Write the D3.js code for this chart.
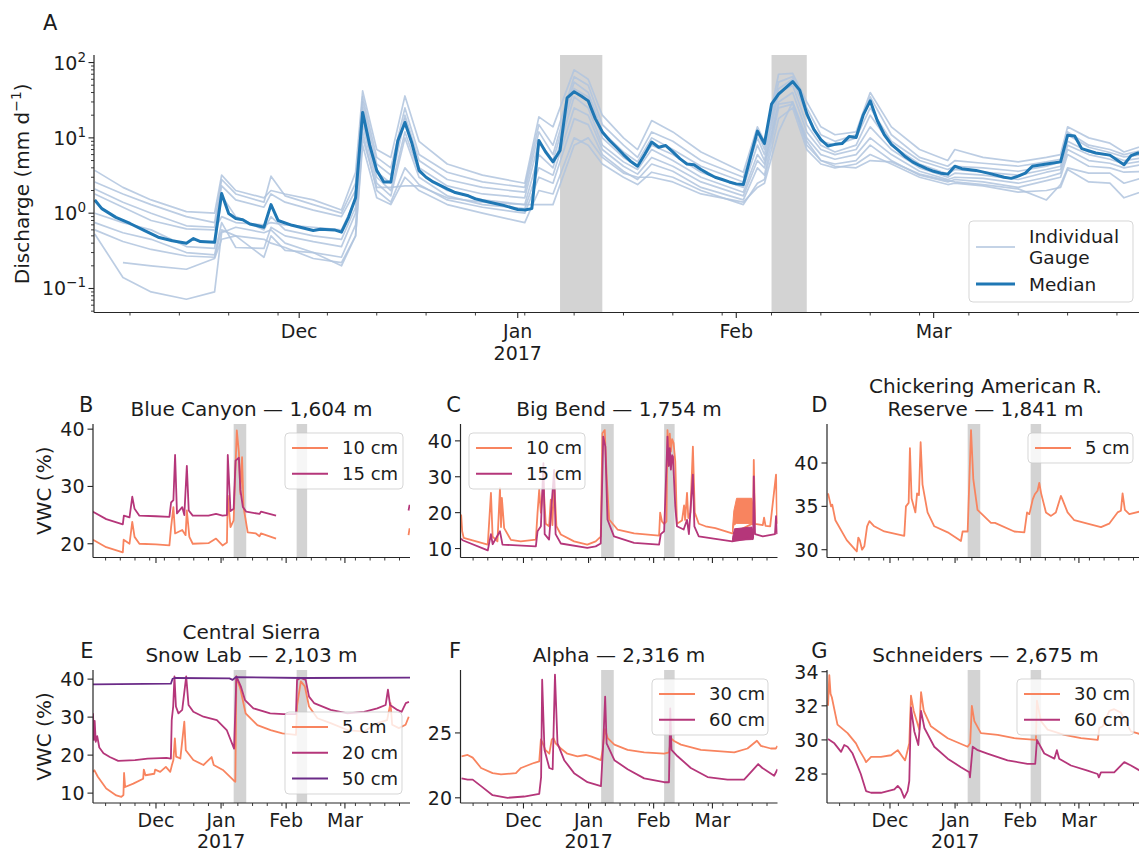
<!DOCTYPE html>
<html><head><meta charset="utf-8">
<script src="https://cdn.jsdelivr.net/npm/d3@7/dist/d3.min.js"></script>
<style>
html,body{margin:0;padding:0;background:#fff;}
svg{display:block;font-family:"DejaVu Sans",sans-serif;}
</style></head>
<body><svg id="fig" width="1139" height="852"></svg>
<script>
// ================= DATA =================
const stormWindows = [["2017-01-07","2017-01-13"],["2017-02-06","2017-02-11"]];
const monthTicks = ["2016-12-01","2017-01-01","2017-02-01","2017-03-01"];
const monthLabels = [["Dec"],["Jan","2017"],["Feb"],["Mar"]];
const dischargeTicks = [0.1, 1, 10, 100];
const dischargeExp = ["\u22121","0","1","2"];

// Panel A: median discharge (mm/d)
const medianQ = [["2016-11-02",1.5],["2016-11-03",1.15],["2016-11-05",0.88],["2016-11-07",0.73],["2016-11-09",0.59],["2016-11-11",0.48],["2016-11-13",0.43],["2016-11-15",0.40],["2016-11-16",0.46],["2016-11-17",0.42],["2016-11-19",0.41],["2016-11-20",1.82],["2016-11-21",0.99],["2016-11-22",0.85],["2016-11-23",0.82],["2016-11-24",0.72],["2016-11-26",0.65],["2016-11-27",1.3],["2016-11-28",0.8],["2016-11-30",0.69],["2016-12-03",0.59],["2016-12-04",0.61],["2016-12-06",0.6],["2016-12-07",0.56],["2016-12-08",0.88],["2016-12-09",1.6],["2016-12-10",21.8],["2016-12-11",8.0],["2016-12-12",3.7],["2016-12-13",2.6],["2016-12-14",2.6],["2016-12-15",9.2],["2016-12-16",16],["2016-12-17",8.4],["2016-12-18",3.7],["2016-12-19",3.0],["2016-12-20",2.6],["2016-12-22",2.1],["2016-12-23",1.9],["2016-12-25",1.7],["2016-12-26",1.55],["2016-12-28",1.4],["2016-12-30",1.27],["2017-01-01",1.12],["2017-01-02",1.1],["2017-01-03",1.15],["2017-01-04",9.2],["2017-01-05",6.4],["2017-01-06",4.8],["2017-01-07",6.8],["2017-01-08",34],["2017-01-09",41],["2017-01-10",36],["2017-01-11",31],["2017-01-12",18],["2017-01-13",12],["2017-01-14",9.3],["2017-01-15",7.5],["2017-01-16",6.0],["2017-01-17",4.9],["2017-01-18",4.2],["2017-01-19",6.0],["2017-01-20",8.8],["2017-01-21",7.5],["2017-01-22",7.9],["2017-01-23",6.5],["2017-01-24",5.3],["2017-01-25",4.5],["2017-01-26",4.4],["2017-01-27",3.8],["2017-01-28",3.35],["2017-01-29",3.0],["2017-01-30",2.8],["2017-01-31",2.6],["2017-02-01",2.45],["2017-02-02",2.4],["2017-02-03",5.5],["2017-02-04",12.3],["2017-02-05",8.4],["2017-02-06",28],["2017-02-07",38],["2017-02-08",46],["2017-02-09",56],["2017-02-10",43],["2017-02-11",21],["2017-02-12",13],["2017-02-13",9.5],["2017-02-14",7.8],["2017-02-15",8.2],["2017-02-16",8.4],["2017-02-17",10.4],["2017-02-18",10.1],["2017-02-19",20],["2017-02-20",31],["2017-02-21",17],["2017-02-22",11],["2017-02-23",8.2],["2017-02-24",6.8],["2017-02-25",5.6],["2017-02-26",4.8],["2017-02-27",4.3],["2017-02-28",3.9],["2017-03-01",3.6],["2017-03-02",3.4],["2017-03-03",3.3],["2017-03-04",4.2],["2017-03-05",3.9],["2017-03-07",3.7],["2017-03-09",3.35],["2017-03-11",3.0],["2017-03-12",2.9],["2017-03-13",3.1],["2017-03-14",3.4],["2017-03-15",4.2],["2017-03-17",4.5],["2017-03-19",4.8],["2017-03-20",10.8],["2017-03-21",10.6],["2017-03-22",7.2],["2017-03-24",6.3],["2017-03-26",5.9],["2017-03-28",4.4],["2017-03-29",5.8],["2017-03-30",6.3],["2017-03-31",6.0]];

// Panel A: individual gauges, sampled on shared dates
const gaugeDates = ["2016-11-02","2016-11-06","2016-11-10","2016-11-15","2016-11-19","2016-11-20","2016-11-22","2016-11-26","2016-11-27","2016-11-29","2016-12-03","2016-12-07","2016-12-09","2016-12-10","2016-12-12","2016-12-14","2016-12-16","2016-12-18","2016-12-22","2016-12-27","2017-01-02","2017-01-04","2017-01-06","2017-01-09","2017-01-11","2017-01-13","2017-01-16","2017-01-18","2017-01-20","2017-01-23","2017-01-27","2017-02-02","2017-02-04","2017-02-05","2017-02-07","2017-02-09","2017-02-11","2017-02-13","2017-02-15","2017-02-18","2017-02-20","2017-02-23","2017-02-27","2017-03-03","2017-03-04","2017-03-08","2017-03-13","2017-03-17","2017-03-19","2017-03-20","2017-03-23","2017-03-26","2017-03-28","2017-03-31"];
const gauge1 = [3.7,2.2,1.5,1.05,1.0,3.2,2.0,1.6,2.0,1.8,1.5,1.1,3.5,42,7,5.5,36,9,4.5,3.2,2.5,19,14,80,60,20,10,7,17,12,6.5,3.5,14,9,70,72,30,14,11,12,40,14,7,5,7,5.5,4.8,5.5,6,14,10,8.5,6.5,8];
const gauge2 = [2.6,1.8,1.3,0.9,0.75,2.8,1.8,1.4,3.1,1.7,1.3,1.0,2.5,35,5.5,4.0,25,6,3.5,2.6,2.2,15,8,65,50,15,8,5.5,12,9,5,3.0,12,7,55,65,25,11,9,11,35,11,5.5,4.2,5,4.6,4.2,4.8,5.2,12,8,7,6,7];
const gauge3 = [2.1,1.4,1.0,0.68,0.65,2.3,1.5,1.2,1.8,1.4,1.1,0.9,2.0,30,4.5,3.2,20,5,2.8,2.2,1.9,12,6,55,40,12,6.5,4.8,10,7,4.2,2.6,10,6,45,60,20,9,8,10,25,9,5,3.8,4.2,4,3.6,4.2,4.8,11,7.5,6.4,5.6,6];
const gauge4 = [1.8,1.2,0.8,0.62,0.6,0.9,0.75,0.7,0.75,0.7,0.65,0.6,1.5,25,3.5,2.5,18,4,2.3,1.8,1.6,9,5,45,35,10,5.5,4.2,8,6,3.5,2.2,8,5,40,50,15,8,6.5,8,20,8,4.5,3.3,3.8,3.5,3.2,3.8,4.2,9,6.5,5.8,5,5.5];
const gauge5 = [1.0,0.75,0.6,0.36,0.34,1.7,0.9,0.6,0.9,0.6,0.5,0.45,1.2,18,3.0,2.0,12,3.5,2.0,1.5,1.3,6,4,35,25,8,4.8,3.8,7,5,3.0,1.9,6,4.5,30,40,12,7,6,7,14,7,4,3.0,3.4,3.2,2.8,3.5,3.8,8,6,5.2,4.5,5];
const gauge6 = [0.75,0.55,0.45,0.3,0.28,0.75,0.35,0.34,0.65,0.5,0.42,0.36,1.0,15,2.5,1.7,10,3,1.7,1.3,1.15,4,3.2,25,20,7,4.2,3.3,5.5,4.2,2.6,1.7,5,4,28,30,10,6,5.2,6,10,6,3.6,2.8,3.0,2.9,2.5,3.0,3.4,7,5,4.6,4,4.5];
const gauge7 = [0.6,0.42,0.33,0.27,0.26,0.6,0.5,0.26,0.5,0.32,0.3,0.26,0.7,12,2.0,1.4,4,2.4,1.5,1.2,1.0,3,2.5,18,15,6,3.6,2.8,4.5,3.6,2.2,1.5,4,3.2,25,28,9,5,4.5,5,8,5,3.2,2.6,2.8,2.6,2.2,2.7,3.0,6,4.2,4.0,3.5,3.6];
const gauge8 = [0.53,0.14,0.09,0.072,0.09,0.55,0.65,0.55,0.6,0.4,0.3,0.2,0.5,8,1.6,1.3,3,2.0,1.3,1.0,0.75,2,1.8,10,8,4.5,3.0,2.4,3.5,3.0,2.0,1.3,2.5,2.8,18,25,7,4.5,4,4.5,6,4.5,3.0,2.4,2.5,2.3,1.9,2.0,2.2,3.8,2.6,2.5,1.6,2.0];
const gauge9 = [null,0.22,0.2,0.18,0.25,0.45,0.5,0.45,0.4,0.35,0.25,0.22,0.5,10,2.2,2.2,2.3,2.3,1.6,1.4,1.3,1.3,1.3,8,10,5.5,3.4,3.0,3.0,2.6,1.8,1.4,2.2,2.5,12,30,8,5,4.2,4.0,5,4.8,3.3,2.7,2.6,2.4,2.1,1.5,2.4,4,3.4,3.4,2.5,3];

// Soil moisture (VWC %), x = days since 1 Nov 2016
const bcTicks = [20,30,40];
const bc10 = [[0,20.7],[6.3,19.4],[14.2,18.5],[14.6,20.7],[17.4,20.0],[18.7,23.8],[19.8,21.2],[22.1,20.0],[30,19.9],[36.4,19.7],[37.2,22.9],[38.3,26.4],[39.1,21.8],[42.5,22.4],[44.1,21.5],[44.7,25.8],[45.9,21.2],[47.5,20.0],[55,20.1],[58.6,20.9],[61.7,19.7],[63.8,20.2],[64.2,28.4],[65.5,22.9],[67,24.1],[68.5,39.8],[69.5,35.9],[70.2,28.7],[71,35.1],[71.7,26.4],[73.7,22],[77.6,21.8],[79.3,21.3],[80,21.8],[87.2,20.9],[87.3,null],[150.3,21.5],[150.8,22.7]];
const bc15 = [[0,25.6],[6.3,24.3],[14.2,23.4],[14.7,24.9],[17.4,24.6],[18.7,28.2],[19.8,26.1],[22.1,24.9],[30,24.8],[36.4,24.7],[37.2,27.2],[38.3,27.6],[39.1,35.5],[40,25.3],[42.5,26.4],[43.5,25.0],[44.7,33.6],[45.6,25.8],[47.5,24.9],[55,24.9],[58.6,25.2],[61.7,24.9],[63.8,25.0],[64.2,35.5],[65.5,25.7],[67,26.1],[67.9,34.5],[69.5,35.0],[70.2,29.4],[71.4,26.4],[73,25.6],[79.3,25.2],[80,25.6],[87.2,24.9],[87.3,null],[150.3,25.8],[150.8,26.8]];

const bbTicks = [10,20,30,40];
const bb10 = [[0.3,19.5],[0.8,14.8],[1.5,13],[13,11.1],[14.5,25.5],[15.3,13.3],[17.6,12.0],[18.8,26.8],[19.3,16],[19.7,24.1],[20.8,15.7],[24,12.4],[28.7,12.0],[35.9,12.5],[36.7,20],[37.5,26.4],[38.3,20],[39.5,28.2],[40.6,16.9],[42.2,16.2],[43,23.6],[43.8,16.5],[44.6,29.2],[45.7,16.2],[47.8,13.9],[54.1,12.0],[60.4,11.1],[64.4,12.0],[66.8,13.3],[67.6,42.1],[68.7,43],[69.7,29.2],[70.8,18.1],[74.8,15.3],[82.7,14.2],[94.6,13.6],[95.1,20],[96,17.5],[97,16.9],[98.1,17.5],[98.6,43],[99.2,36],[99.7,42],[100.2,37],[100.8,40.5],[101.5,39.4],[102.3,34.3],[103.1,16.9],[105.5,17.8],[106.5,22],[107,18],[107.9,25.5],[108.5,18.5],[109.5,20],[110.7,38.4],[111.6,20],[113.5,16.9],[116.7,16.2],[121.4,15.7],[129.4,14.2],[139.4,17],[139.7,34.7],[140.3,16.9],[144,16.5],[144.6,18.6],[145.3,16.3],[147.5,16.2],[150.3,30.6],[150.8,16.9]];
const bb10Band = [[129.6,14.5,16],[130.2,16.5,20.5],[131.5,17,24],[138.8,17,24],[139.4,16.5,21]];
const bb15 = [[0.3,12.8],[1,12.3],[13,9.5],[14.5,14],[15.3,11.2],[18.8,14.8],[20,11.1],[35.9,10.6],[36.7,14.8],[38.3,16.2],[39.5,33.8],[40.1,14],[42.2,12.5],[44.6,31.9],[45.3,14],[47.8,11.4],[60.4,10.2],[64.4,10.6],[66.8,11.4],[68,41.2],[69,38.4],[70,18.1],[73.1,13.4],[82.7,11.6],[94.6,11.1],[95.4,14],[97,14.8],[98.6,41.2],[99.2,33],[99.7,38],[100.2,32],[100.8,36],[101.2,35.6],[102.3,21.8],[103.1,16.2],[106.3,15.3],[107.9,18],[108.8,14],[110.7,30.6],[111.4,16.2],[113.5,13.4],[121.4,12.7],[129.4,12.0],[139.4,13],[139.7,30.1],[140.3,14],[144,13.4],[149.8,14],[150.3,19],[150.8,14]];
const bb15Band = [[129.6,12,13],[130.5,12.3,15.5],[138.8,12.5,16],[139.4,12.5,14.5]];

const chTicks = [30,35,40];
const ch5 = [[0.5,36.5],[1.9,35.0],[2.5,35.2],[4,33.4],[9.4,31.1],[13.4,30.0],[14.2,29.8],[14.9,31.4],[15.6,31.1],[16.7,30.0],[17.8,30.4],[19.1,32.7],[20.2,33.3],[22.5,32.7],[27.3,32.1],[36.8,31.6],[37.6,35.0],[38.9,35.4],[39.5,41.7],[40.3,35.9],[42.1,34.3],[42.9,36.5],[43.8,36.3],[44.6,42.4],[45.5,37.5],[47.9,34.3],[51.1,32.7],[57.5,32.0],[63.8,31.0],[64.6,32.1],[67,32.1],[68.6,43.8],[69.7,38.1],[71.7,34.6],[78.1,33.1],[80,33.1],[89.2,32.1],[94,32.0],[95.3,34.3],[96.4,34.1],[98,35.8],[99,36.4],[100.3,36.8],[101.1,37.7],[102,36.5],[104.3,34.3],[106.7,33.9],[109,34.3],[111.4,36.2],[112,35.9],[114.6,34.3],[117.8,33.4],[124.1,33.0],[130.5,32.6],[134.4,33.0],[138.4,34.3],[140,34.5],[140.8,36.5],[141.9,34.6],[144,34.1],[149,34.4],[151,34.5]];

const cslTicks = [10,20,30,40];
const csl5 = [[0,15.6],[0.7,16],[2.3,14.3],[6.3,11.2],[11.1,9.4],[13.5,9.0],[14.5,9.5],[14.8,15.3],[15.3,11.6],[19.2,12.5],[23.9,13.8],[24.2,16.2],[25,14.7],[29.2,15.1],[29.6,16.2],[32,15.6],[34.7,16.9],[36.8,15.6],[37.6,17.4],[38.3,18.7],[39,24.4],[39.6,19.6],[41.6,19.1],[43.5,28.8],[44.2,21.3],[47.8,18.7],[52.6,17.4],[56.5,19.5],[57.5,17.4],[62.1,16.0],[66.9,13.4],[67.8,13.0],[68.3,40.7],[70.3,37.2],[72.7,31.0],[78.3,27.9],[84.6,26.6],[90.2,25.7],[96.7,25.3],[97.2,33],[99,39.4],[100.9,38.1],[102.9,32.8],[106.9,29.7],[113.2,28.4],[121.2,26.6],[129.1,26.2],[135.4,28.4],[140.1,29.2],[141.7,33.7],[142.5,28.0],[145.7,27.1],[148.9,28.0],[150.4,30.1]];
const csl20 = [[0,31],[0.4,24],[0.8,29],[1.3,23.5],[2,25],[3,22],[5,20.5],[8,19.5],[12,18.5],[20,18.7],[26,19.1],[35,19.3],[37.1,19.1],[37.5,29.2],[38.2,32.8],[38.8,40.7],[39.5,32.8],[40.7,31.0],[42.5,31.9],[44.4,40.7],[45.5,33.2],[47.8,31.4],[52.6,30.1],[59,29.2],[63.7,26.6],[67.2,21.7],[68.3,40.7],[70.4,38.1],[72.4,34.5],[76.4,32.3],[84.4,31.0],[90.7,30.8],[96.7,30.8],[97.2,39.8],[98.9,40.3],[101.3,39.8],[102.9,35.4],[105.3,33.7],[113.2,31.9],[121.2,31.0],[129.1,31.4],[135.4,32.3],[139.4,33.2],[140.5,37.2],[141.5,33.2],[145,31.9],[147,31.4],[149,33.7],[150.5,34]];
const csl50 = [[0,38.6],[37.1,38.8],[37.9,40.1],[39,40.3],[65,40.2],[66.5,39.8],[68,40.5],[100,40.3],[151,40.4]];

const alTicks = [20,25];
const al30 = [[0.5,23.2],[3.4,23.3],[5.8,23.1],[9.8,22.3],[15.3,21.9],[19.3,21.8],[26.4,21.9],[28.8,22.3],[35.2,22.7],[37.5,22.8],[38.3,24.5],[39.2,24.2],[40.4,23.7],[42.3,23.4],[43.5,24.5],[44.3,24.6],[45.3,24.2],[47.8,23.8],[50.9,23.4],[55.7,23.2],[59.7,23.3],[62.1,23.2],[66.9,22.9],[67.7,23.7],[68.8,25.3],[70.1,24.6],[73.3,24.1],[79.6,23.7],[87.5,23.5],[97,23.4],[99.4,23.5],[100.2,24.6],[101.5,24.4],[105,24.1],[114.5,23.7],[122.5,23.6],[130.4,23.5],[136.7,23.8],[141.2,24.4],[143.1,24.0],[147.8,23.8],[150.2,23.8],[151,24.0]];
const al60 = [[0.5,21.5],[3.4,21.4],[5.8,21.4],[9.8,20.9],[15.3,20.2],[22.4,20.0],[30.3,20.1],[37.5,20.3],[38.4,21.6],[38.9,29.1],[40,23.7],[42.3,22.3],[43.9,22.2],[45,29.5],[46.2,24.2],[49.4,22.9],[54.1,21.9],[60.5,21.2],[66.9,20.9],[68,24.2],[68.9,27.8],[69.6,24.2],[73.3,22.9],[79.6,22.2],[87.5,21.5],[97,21.2],[99.3,21.2],[99.9,26.9],[100.5,23.7],[103.4,23.2],[109.7,22.3],[117.7,21.6],[127.2,21.4],[135.1,21.4],[141.8,22.6],[143.8,22.3],[149.4,21.7],[151,22.2]];

const scTicks = [28,30,32,34];
const sc30 = [[0.5,32.0],[1.1,33.8],[1.7,32.7],[2.3,32.5],[5.0,30.9],[9.8,30.4],[13.8,29.8],[15.4,29.4],[17.8,28.9],[18.6,28.7],[21,29.0],[25.7,29.0],[30.5,29.1],[33.7,29.4],[36.0,29.0],[37.2,28.8],[39.2,29.8],[40,32.6],[41.3,31.7],[44,30.6],[44.8,32.8],[46.1,31.7],[49.5,30.8],[57.5,30.1],[67,29.6],[68.2,29.8],[69,32.0],[70.2,31.1],[73.3,30.4],[81.3,30.3],[89.2,30.1],[99.5,30.0],[100,32.3],[101.9,31.1],[105.1,30.6],[113,30.3],[121,30.1],[129,30.0],[129.7,30.7],[131.3,30.8],[134.5,31.7],[136.8,31.8],[140,31.6],[141.6,31.2],[144.8,30.5],[149,30.35],[151,30.3]];
const sc60 = [[0.5,30.05],[3.5,29.8],[6.7,29.3],[8.2,29.7],[9.8,29.6],[12.2,29.2],[16.1,28.0],[18.6,27.0],[21,26.9],[25.7,26.9],[32.1,27.1],[33.7,27.3],[35.2,27.1],[36.8,26.6],[38.4,27.0],[39.2,27.6],[40,31.9],[41.6,30.5],[43.5,29.7],[44.8,31.7],[46.4,30.7],[51.1,29.6],[57.5,28.9],[63.8,28.4],[67.8,28.1],[68.1,27.8],[69.4,29.6],[71.8,29.4],[76.4,29.2],[86,28.8],[95.5,28.6],[99.2,28.6],[100,30.0],[103.5,29.2],[108.3,28.9],[109.5,29.4],[110.6,28.9],[116.2,28.5],[124.1,28.2],[128.9,28.0],[129.5,27.8],[130.5,28.1],[136.8,28.1],[141.6,28.7],[144.8,28.5],[149,28.2],[151,28.2]];

// ================= DRAWING =================
const P = d3.timeParse("%Y-%m-%d");
const T0 = P("2016-11-01");
const dayToDate = d => new Date(T0.getTime() + d * 86400000);
const AX = "#262626", TXT = "#1c1c1c";
const ORANGE = "#f8845f", MAGENTA = "#b5367a", PURPLE = "#6b2b88";
const GAUGE = "#b0c4de", MEDIAN = "#1f77b4", SHADE = "#d3d3d3";
const svg = d3.select("#fig");
const defs = svg.append("defs");

function addText(g, x, y, txt, size, anchor) {
  return g.append("text").attr("x", x).attr("y", y).attr("font-size", size)
    .attr("text-anchor", anchor || "start").attr("fill", TXT).text(txt);
}

function drawXAxis(g, x, yb, xl, xr, labels, fs, lab0, labStep) {
  g.append("line").attr("x1", xl).attr("x2", xr).attr("y1", yb).attr("y2", yb)
    .attr("stroke", AX).attr("stroke-width", 1.2);
  const majors = monthTicks.map(P);
  const d0 = x.invert(xl), d1 = x.invert(Math.min(xr, 1139));
  d3.timeMonday.range(d0, d1).forEach(d => {
    if (majors.some(m => Math.abs(m - d) < 3600e3)) return;
    g.append("line").attr("x1", x(d)).attr("x2", x(d)).attr("y1", yb).attr("y2", yb + 3)
      .attr("stroke", AX).attr("stroke-width", 0.9);
  });
  majors.forEach((m, i) => {
    const px = x(m);
    g.append("line").attr("x1", px).attr("x2", px).attr("y1", yb).attr("y2", yb + 5.5)
      .attr("stroke", AX).attr("stroke-width", 1.1);
    if (labels) {
      monthLabels[i].forEach((s, j) => addText(g, px, yb + lab0 + j * labStep, s, fs, "middle"));
    }
  });
}

function legend(g, bx, by, bw, entries, fs, opts) {
  opts = opts || {};
  const rowH = opts.rowH || 25.7;
  const bh = opts.bh || (4 + 26 * entries.length);
  g.append("rect").attr("x", bx).attr("y", by).attr("width", bw).attr("height", bh)
    .attr("rx", 4).attr("fill", "#fff").attr("fill-opacity", 0.8)
    .attr("stroke", "#cccccc").attr("stroke-opacity", 0.8).attr("stroke-width", 1);
  const lx0 = bx + (opts.lx0 || 7), lx1 = bx + (opts.lx1 || 43), tx = bx + (opts.tx || 57);
  entries.forEach((e, i) => {
    const cy = by + (e.cy != null ? e.cy : 15 + rowH * i);
    g.append("line").attr("x1", lx0).attr("x2", lx1).attr("y1", cy).attr("y2", cy)
      .attr("stroke", e.color).attr("stroke-width", e.width || 2);
    const lines = e.label;
    const lh = fs * 1.17;
    lines.forEach((s, j) => {
      const ty = cy + fs * 0.36 + (j - (lines.length - 1) / 2) * lh;
      addText(g, tx, ty, s, fs, "start");
    });
  });
}

// ---------- Panel A ----------
(function () {
  const box = {l: 94, r: 1139, t: 55, b: 312.5};
  const x = d3.scaleTime().domain([T0, dayToDate(151)]).range([87.7, 1152.2]);
  const y = d3.scaleLog().domain([0.048, 126]).range([box.b, box.t]);
  const g = svg.append("g");
  defs.append("clipPath").attr("id", "clipA").append("rect")
    .attr("x", box.l).attr("y", box.t - 10).attr("width", box.r - box.l).attr("height", box.b - box.t + 10);
  stormWindows.forEach(([s, e]) => g.append("rect").attr("x", x(P(s))).attr("width", x(P(e)) - x(P(s)))
    .attr("y", box.t).attr("height", box.b - box.t).attr("fill", SHADE));
  const line = d3.line().defined(d => d[1] != null).x(d => x(d[0])).y(d => y(d[1]));
  const gl = g.append("g").attr("clip-path", "url(#clipA)");
  const gauges = [gauge1, gauge2, gauge3, gauge4, gauge5, gauge6, gauge7, gauge8, gauge9];
  gauges.forEach(gv => {
    const s = gaugeDates.map((ds, i) => [P(ds), gv[i]]);
    gl.append("path").attr("d", line(s)).attr("fill", "none").attr("stroke", GAUGE)
      .attr("stroke-width", 1.7).attr("stroke-opacity", 0.85).attr("stroke-linejoin", "round");
  });
  gl.append("path").attr("d", line(medianQ.map(d => [P(d[0]), d[1]]))).attr("fill", "none")
    .attr("stroke", MEDIAN).attr("stroke-width", 3).attr("stroke-linejoin", "round");
  // y axis
  g.append("line").attr("x1", box.l).attr("x2", box.l).attr("y1", box.t).attr("y2", box.b)
    .attr("stroke", AX).attr("stroke-width", 1.2);
  for (let k = -2; k <= 2; k++) for (let m = 2; m <= 9; m++) {
    const v = m * Math.pow(10, k);
    if (v < 0.048 || v > 126) continue;
    g.append("line").attr("x1", box.l - 3).attr("x2", box.l).attr("y1", y(v)).attr("y2", y(v))
      .attr("stroke", AX).attr("stroke-width", 0.9);
  }
  dischargeTicks.forEach((v, i) => {
    const py = y(v);
    g.append("line").attr("x1", box.l - 5.5).attr("x2", box.l).attr("y1", py).attr("y2", py)
      .attr("stroke", AX).attr("stroke-width", 1.1);
    const t = g.append("text").attr("x", box.l - 8).attr("y", py + 7).attr("font-size", 19)
      .attr("text-anchor", "end").attr("fill", TXT);
    t.append("tspan").text("10");
    t.append("tspan").attr("dy", -8).attr("font-size", 13.5).text(dischargeExp[i]);
  });
  drawXAxis(g, x, box.b, box.l, box.r, true, 19, 25.5, 22);
  // y label
  const yl = g.append("text").attr("transform", `translate(29,${(box.t + box.b) / 2}) rotate(-90)`)
    .attr("text-anchor", "middle").attr("font-size", 20).attr("fill", TXT);
  yl.append("tspan").text("Discharge (mm d");
  yl.append("tspan").attr("dy", -8).attr("font-size", 14).text("\u22121");
  yl.append("tspan").attr("dy", 8).text(")");
  addText(g, 43, 30, "A", 21);
  legend(g, 969, 221, 164, [
    {label: ["Individual", "Gauge"], color: GAUGE, width: 1.7, cy: 26},
    {label: ["Median"], color: MEDIAN, width: 3, cy: 63}
  ], 18.5, {bh: 81, lx0: 7, lx1: 46, tx: 60});
})();

// ---------- Soil moisture panels ----------
const cols = [93, 460.5, 827];
const rows = [{t: 424, b: 557.5}, {t: 670, b: 803}];
const panels = [
  {letter: "B", c: 0, r: 0, title: ["Blue Canyon \u2014 1,604 m"], dom: [17.6, 40.9], ticks: bcTicks,
   series: [{d: bc10, col: ORANGE, lab: "10 cm"}, {d: bc15, col: MAGENTA, lab: "15 cm"}], leg: [285, 433, 118]},
  {letter: "C", c: 1, r: 0, title: ["Big Bend \u2014 1,754 m"], dom: [7.5, 44.7], ticks: bbTicks,
   series: [{d: bb10, col: ORANGE, lab: "10 cm", band: bb10Band}, {d: bb15, col: MAGENTA, lab: "15 cm", band: bb15Band}], leg: [469, 433, 116]},
  {letter: "D", c: 2, r: 0, title: ["Chickering American R.", "Reserve \u2014 1,841 m"], dom: [29.1, 44.5], ticks: chTicks,
   series: [{d: ch5, col: ORANGE, lab: "5 cm"}], leg: [1028, 433, 105]},
  {letter: "E", c: 0, r: 1, title: ["Central Sierra", "Snow Lab \u2014 2,103 m"], dom: [7.4, 42.4], ticks: cslTicks,
   series: [{d: csl5, col: ORANGE, lab: "5 cm"}, {d: csl20, col: MAGENTA, lab: "20 cm"}, {d: csl50, col: PURPLE, lab: "50 cm"}], leg: [285, 712, 117]},
  {letter: "F", c: 1, r: 1, title: ["Alpha \u2014 2,316 m"], dom: [19.6, 29.85], ticks: alTicks,
   series: [{d: al30, col: ORANGE, lab: "30 cm"}, {d: al60, col: MAGENTA, lab: "60 cm"}], leg: [652, 679, 116]},
  {letter: "G", c: 2, r: 1, title: ["Schneiders \u2014 2,675 m"], dom: [26.3, 34.1], ticks: scTicks,
   series: [{d: sc30, col: ORANGE, lab: "30 cm"}, {d: sc60, col: MAGENTA, lab: "60 cm"}], leg: [1017, 679, 117]}
];

panels.forEach((p, idx) => {
  const x0 = cols[p.c], x1 = x0 + 317, rw = rows[p.r];
  const x = d3.scaleTime().domain([T0, dayToDate(151)]).range([x0, x1]);
  const y = d3.scaleLinear().domain(p.dom).range([rw.b, rw.t]);
  const g = svg.append("g");
  const cid = "clipP" + idx;
  defs.append("clipPath").attr("id", cid).append("rect")
    .attr("x", x0).attr("y", rw.t).attr("width", 317).attr("height", rw.b - rw.t);
  stormWindows.forEach(([s, e]) => g.append("rect").attr("x", x(P(s))).attr("width", x(P(e)) - x(P(s)))
    .attr("y", rw.t).attr("height", rw.b - rw.t).attr("fill", SHADE));
  const gl = g.append("g").attr("clip-path", `url(#${cid})`);
  const line = d3.line().defined(d => d[1] != null).x(d => x(dayToDate(d[0]))).y(d => y(d[1]));
  const area = d3.area().x(d => x(dayToDate(d[0]))).y0(d => y(d[1])).y1(d => y(d[2]));
  p.series.forEach(s => {
    if (s.band) gl.append("path").attr("d", area(s.band)).attr("fill", s.col).attr("stroke", s.col).attr("stroke-width", 1);
    gl.append("path").attr("d", line(s.d)).attr("fill", "none").attr("stroke", s.col)
      .attr("stroke-width", 1.8).attr("stroke-linejoin", "round");
  });
  // axes
  g.append("line").attr("x1", x0).attr("x2", x0).attr("y1", rw.t).attr("y2", rw.b)
    .attr("stroke", AX).attr("stroke-width", 1.2);
  p.ticks.forEach(v => {
    const py = y(v);
    g.append("line").attr("x1", x0 - 5.5).attr("x2", x0).attr("y1", py).attr("y2", py)
      .attr("stroke", AX).attr("stroke-width", 1.1);
    addText(g, x0 - 8.5, py + 7, String(v), 19, "end");
  });
  drawXAxis(g, x, rw.b, x0, x1, p.r === 1, 19, 24, 20.5);
  // titles
  const cx = x0 + 158.5;
  p.title.forEach((s, j) => addText(g, cx, rw.t - 8 - (p.title.length - 1 - j) * 23.5, s, 20, "middle"));
  addText(g, x0 + 0.5, rw.t - 12, p.letter, 21, "end");
  if (p.c === 0) {
    g.append("text").attr("transform", `translate(51,${(rw.t + rw.b) / 2}) rotate(-90)`)
      .attr("text-anchor", "middle").attr("font-size", 20).attr("fill", TXT).text("VWC (%)");
  }
  legend(g, p.leg[0], p.leg[1], p.leg[2],
    p.series.map(s => ({label: [s.lab], color: s.col, width: 2})), 18);
});
</script>
</body></html>
